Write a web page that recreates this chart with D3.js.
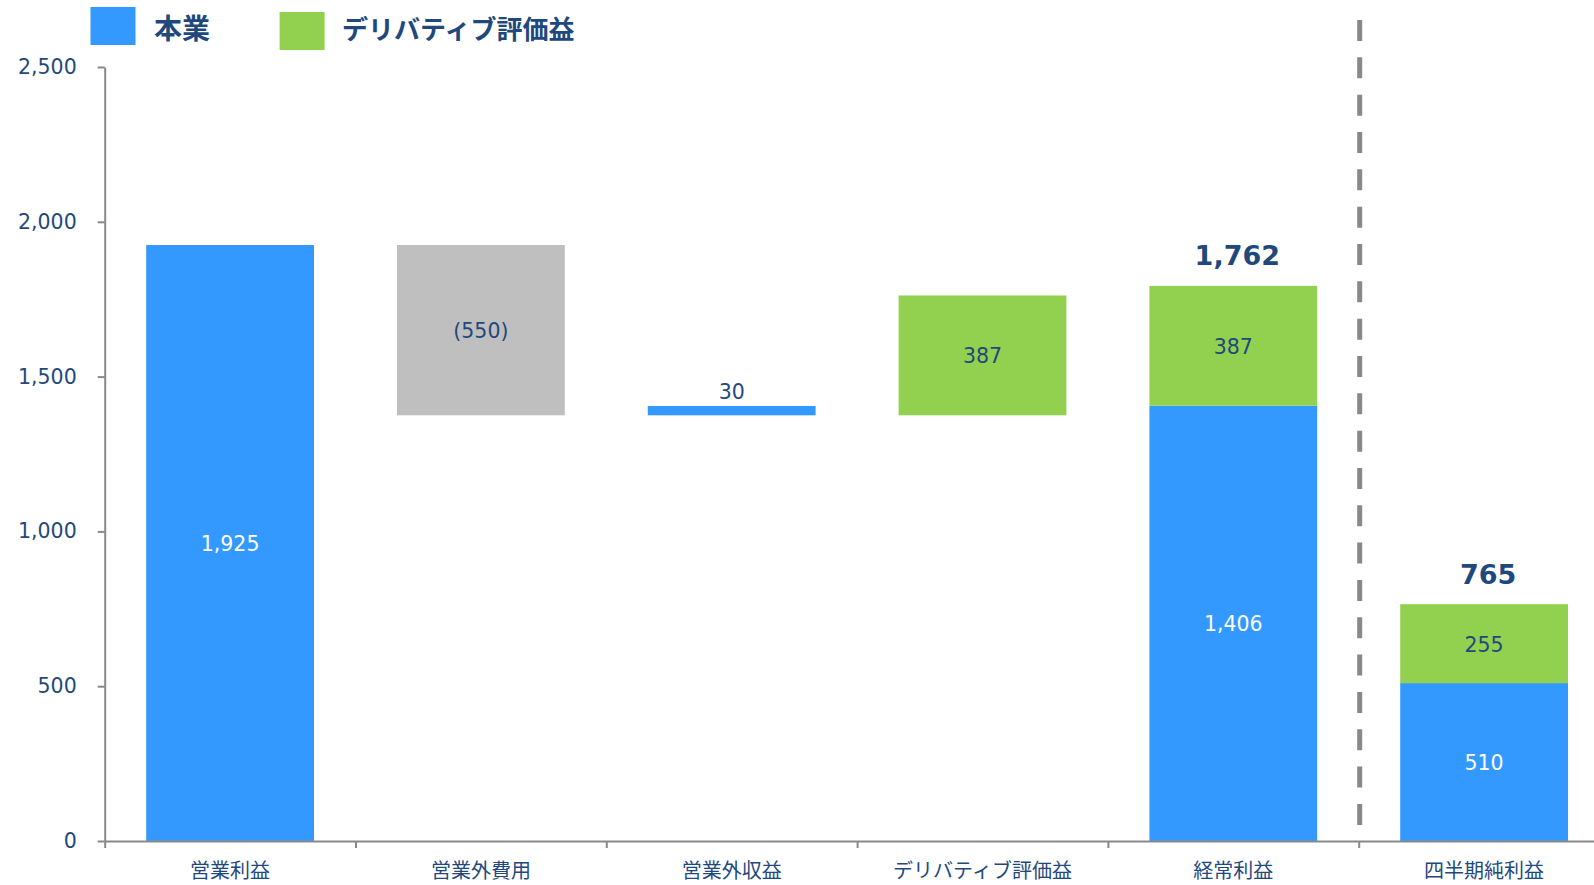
<!DOCTYPE html>
<html>
<head>
<meta charset="utf-8">
<script src="https://cdn.jsdelivr.net/npm/d3@7"></script>
<style>
  html, body { margin: 0; padding: 0; background: #ffffff; overflow: hidden; }
  svg { display: block; font-family: "DejaVu Sans", "Noto Sans CJK JP", sans-serif; }
</style>
</head>
<body>
<svg id="chart" width="1594" height="885"></svg>
<script>
// ---- data ----
const categories = ["営業利益", "営業外費用", "営業外収益", "デリバティブ評価益", "経常利益", "四半期純利益"];
const barBase = [0, 1375, 1375, 1375, 0, 0];           // where each floating bar starts
const expenseValues = [null, -550, null, null, null, null];
const coreValues = [1925, null, 30, null, 1406, 510];   // 本業
const derivValues = [null, null, null, 387, 387, 255];  // デリバティブ評価益
const totalLabels = [null, null, null, null, 1762, 765];
const yTicks = [0, 500, 1000, 1500, 2000, 2500];
const legendNames = ["本業", "デリバティブ評価益"];

// ---- styles ----
const COLORS = { core: "#3399ff", deriv: "#92d050", expense: "#bfbfbf" };
const NAVY = "#1f497d";
const AXIS = "#898989";

const svg = d3.select("#chart");
const x0 = 104.7, x1 = 104.7 + 6 * 250.8;
const y = d3.scaleLinear().domain([0, 2500]).range([841, 67]);
const x = d3.scaleBand().domain(categories).range([x0, x1])
  .paddingInner(0.331).paddingOuter(0.1655);

// ---- segments ----
const segments = [];
categories.forEach((c, i) => {
  let stack = barBase[i];
  [["expense", expenseValues], ["core", coreValues], ["deriv", derivValues]].forEach(([key, arr]) => {
    const v = arr[i];
    if (v === null || v === undefined) return;
    const a = Math.abs(v);
    segments.push({ cat: c, key, v, y0: stack, y1: stack + a });
    stack += a;
  });
});

const g = svg.append("g");
g.selectAll("rect.seg").data(segments).join("rect")
  .attr("class", "seg")
  .attr("x", d => x(d.cat))
  .attr("width", x.bandwidth())
  .attr("y", d => y(d.y1))
  .attr("height", d => y(d.y0) - y(d.y1))
  .attr("fill", d => COLORS[d.key]);

// segment labels
const fmt = d3.format(",");
g.selectAll("text.seglab").data(segments).join("text")
  .attr("class", "seglab")
  .attr("x", d => x(d.cat) + x.bandwidth() / 2)
  .attr("y", d => {
    const h = y(d.y0) - y(d.y1);
    return h < 25 ? y(d.y1) - 14 : (y(d.y0) + y(d.y1)) / 2 + 1;
  })
  .attr("text-anchor", "middle")
  .attr("dominant-baseline", "central")
  .attr("font-size", 20.5)
  .attr("fill", d => (d.key === "core" && (y(d.y0) - y(d.y1)) >= 25) ? "#ffffff" : NAVY)
  .text(d => d.v < 0 ? "(" + fmt(-d.v) + ")" : fmt(d.v));

// total labels
categories.forEach((c, i) => {
  if (totalLabels[i] === null) return;
  const top = segments.filter(s => s.cat === c).reduce((m, s) => Math.max(m, s.y1), 0);
  g.append("text")
    .attr("x", x(c) + x.bandwidth() / 2 + 4)
    .attr("y", y(top) - 30)
    .attr("text-anchor", "middle")
    .attr("dominant-baseline", "central")
    .attr("font-size", 27)
    .attr("font-weight", "bold")
    .attr("fill", NAVY)
    .text(fmt(totalLabels[i]));
});

// ---- axes ----
const yAxis = svg.append("g").attr("transform", `translate(${x0},0)`)
  .call(d3.axisLeft(y).tickValues(yTicks).tickFormat(fmt).tickSizeInner(7).tickSizeOuter(0).tickPadding(21));
yAxis.select(".domain").attr("stroke", AXIS).attr("stroke-width", 2);
yAxis.selectAll(".tick line").attr("stroke", AXIS).attr("stroke-width", 2);
yAxis.selectAll(".tick text").attr("fill", NAVY).attr("font-size", 20.5)
  .attr("font-family", "DejaVu Sans, sans-serif");

const boundary = d3.scaleLinear().domain([0, 6]).range([x0, x1]);
const xTickAxis = svg.append("g").attr("transform", `translate(0,${y(0)})`)
  .call(d3.axisBottom(boundary).tickValues(d3.range(0, 7)).tickFormat("").tickSizeInner(7).tickSizeOuter(0));
xTickAxis.select(".domain").attr("stroke", AXIS).attr("stroke-width", 2);
xTickAxis.selectAll(".tick line").attr("stroke", AXIS).attr("stroke-width", 2);

const xLab = svg.append("g").attr("transform", `translate(0,${y(0)})`)
  .call(d3.axisBottom(x).tickSize(0).tickPadding(23));
xLab.select(".domain").remove();
xLab.selectAll(".tick text").attr("fill", NAVY).attr("font-size", 20)
  .attr("font-family", "Noto Sans CJK JP, sans-serif");

// ---- dashed separator between 経常利益 and 四半期純利益 ----
svg.append("line")
  .attr("x1", boundary(5) + 1).attr("x2", boundary(5) + 1)
  .attr("y1", 20).attr("y2", 826)
  .attr("stroke", "#888888").attr("stroke-width", 5)
  .attr("stroke-dasharray", "21,16.33");

// ---- legend ----
const legend = svg.append("g");
const legendItems = [
  { name: legendNames[0], color: COLORS.core, rx: 90.5, ry: 7, tx: 154, fs: 28 },
  { name: legendNames[1], color: COLORS.deriv, rx: 279.6, ry: 12, tx: 342, fs: 26 }
];
legendItems.forEach(it => {
  legend.append("rect").attr("x", it.rx).attr("y", it.ry).attr("width", 45).attr("height", 38).attr("fill", it.color);
  legend.append("text").attr("x", it.tx).attr("y", 27)
    .attr("dominant-baseline", "central")
    .attr("font-size", it.fs).attr("font-weight", "bold")
    .attr("font-family", "Noto Sans CJK JP, sans-serif")
    .attr("fill", NAVY).text(it.name);
});
</script>
</body>
</html>
